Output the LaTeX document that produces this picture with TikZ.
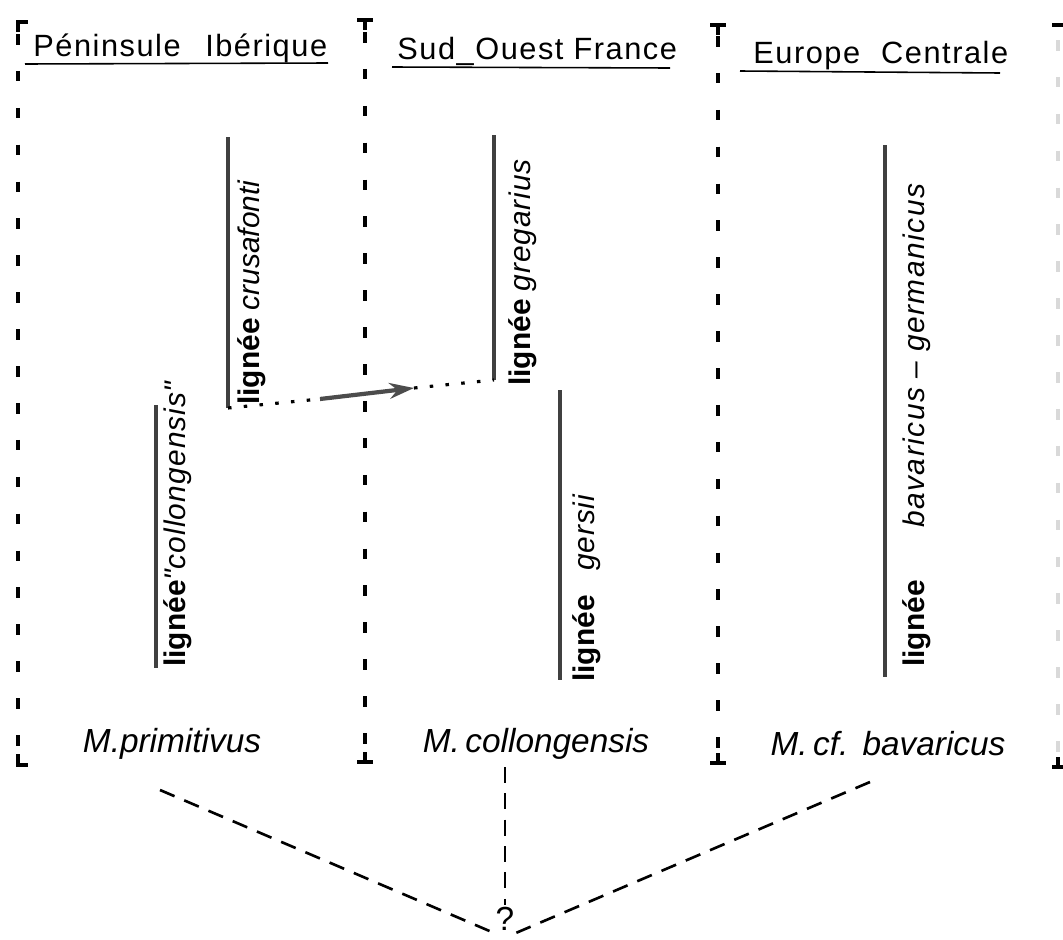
\documentclass[tikz,border=0pt]{standalone}
\usepackage{fontspec}
\setmainfont{Liberation Sans}
\usetikzlibrary{arrows.meta}

\tikzset{
  sep/.style={line width=2pt, dash pattern=on 6pt off 15pt},
  tick/.style={line width=2pt},
  lignee/.style={line width=2.2pt, draw=black!75},
  titre/.style={font=\fontsize{17.5}{20}\selectfont\addfontfeature{LetterSpace=5}, anchor=base west, inner sep=0pt},
  lab/.style={rotate=90, anchor=north west, inner sep=0pt, font=\fontsize{17}{20}\selectfont},
  espece/.style={font=\fontsize{19}{22}\selectfont\itshape, inner sep=1pt},
  origine/.style={line width=1.5pt, dash pattern=on 9pt off 6pt},
  migr/.style={line width=1.8pt, dash pattern=on 2pt off 7pt},
}

\begin{document}
\begin{tikzpicture}[x=0.02cm, y=-0.02cm]
\useasboundingbox (0,0) rectangle (1063,940);

% separations
\draw[sep] (18,34) -- (18,756);
\draw[tick] (18,32) -- (18,22) -- (28,22);
\draw[tick] (18,754) -- (18,765) -- (28,765);
\draw[sep] (365,32) -- (365,750);
\draw[tick] (357,20) -- (373,20) (365,20) -- (365,30);
\draw[tick] (357,762) -- (373,762) (365,752) -- (365,762);
\draw[sep] (718,36) -- (718,752);
\draw[tick] (710,25) -- (726,25) (718,25) -- (718,35);
\draw[tick] (710,763) -- (726,763) (718,753) -- (718,763);
\draw[sep, black!15] (1058,40) -- (1058,756);
\draw[tick] (1052,25) -- (1063,25);
\draw[tick] (1052,767) -- (1063,767) (1058,757) -- (1058,767);

% titres
\node[titre] (tIb) at (33,56) {Péninsule\hspace{14pt}Ibérique};
\node[titre] (tSO) at (397,59) {Sud\_Ouest France};
\node[titre] (tEC) at (753,63) {Europe\hspace{12pt}Centrale};
\draw[line width=0.9pt] (25,64) -- (328,63);
\draw[line width=0.9pt] (392,67) -- (670,68);
\draw[line width=0.9pt] (740,71) -- (1000,73);

% lignees
\coordinate (cruT) at (228,137);
\coordinate (cruB) at (228,408);
\coordinate (colT) at (156,405);
\coordinate (colB) at (156,668);
\coordinate (greT) at (494,135);
\coordinate (greB) at (494,380);
\coordinate (gerT) at (560,390);
\coordinate (gerB) at (560,680);
\coordinate (bavT) at (885,145);
\coordinate (bavB) at (885,677);
\draw[lignee] (cruT) -- (cruB);
\draw[lignee] (colT) -- (colB);
\draw[lignee] (greT) -- (greB);
\draw[lignee] (gerT) -- (gerB);
\draw[lignee] (bavT) -- (bavB);

\node[lab] (lcru) at (237,405) {\textbf{lignée} \textit{crusafonti}};
\node[lab] (lcol) at (163,667) {\textbf{lignée}\textit{\addfontfeature{LetterSpace=4}\textquotedbl collongensis\textquotedbl}};
\node[lab] (lgre) at (508,386) {\textbf{lignée} \textit{\addfontfeature{LetterSpace=3}gregarius}};
\node[lab] (lger) at (572,682) {\textbf{lignée}\hspace{14pt}\textit{\addfontfeature{LetterSpace=3}gersii}};
\node[lab] (lbav) at (902,667) {\textbf{lignée}\hspace{30pt}\textit{\addfontfeature{LetterSpace=5}bavaricus -- germanicus}};

% migration
\coordinate (arrA) at (320,399);
\coordinate (arrB) at (414,388);
\draw[migr] (cruB) -- (arrA);
\draw[line width=2.4pt, black!70, -{Stealth[length=14pt, width=9pt]}] (arrA) -- (arrB);
\draw[migr] (arrB) -- (greB);

% especes
\node[espece] (prim) at (172,744) {M.primitivus};
\node[espece] (coll) at (536,744) {M.\,collongensis};
\node[espece] (bav) at (888,744) {M.\,cf.\hspace{8pt}bavaricus};

% origine
\node[inner sep=1pt, font=\fontsize{19}{21}\selectfont] (q) at (505,919) {?};
\coordinate (pO) at (160,790);
\coordinate (cO) at (505,767);
\coordinate (bO) at (870,782);
\draw[origine] (pO) -- (q.south west);
\draw[origine] (cO) -- (q.north);
\draw[origine] (bO) -- (q.south east);
\end{tikzpicture}
\end{document}
